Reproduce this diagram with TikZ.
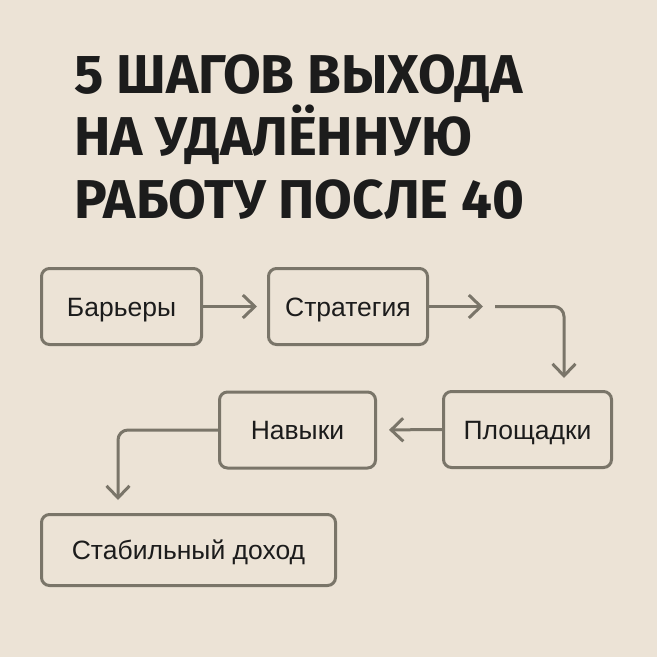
\documentclass[tikz,border=0pt]{standalone}
\usepackage{fontspec}
\setmainfont{Liberation Sans}
\newfontfamily\titlefont{Fira Sans}
\usetikzlibrary{positioning,arrows.meta}

\definecolor{paper}{HTML}{ECE3D6}
\definecolor{frame}{HTML}{7A7569}
\definecolor{ink}{HTML}{1C1C1C}

\begin{document}
\begin{tikzpicture}[
        x=1pt, y=-1pt,
        stepbox/.style={rectangle, draw=frame, line width=3pt, rounded corners=8pt, text=ink,
            font=\fontsize{26.5}{30}\selectfont, minimum height=76pt, inner sep=0pt,
            text height=19pt, text depth=0pt},
        headline/.style={anchor=base west, inner sep=0pt, text=ink,
            font=\titlefont\bfseries\fontsize{54.7}{62.5}\selectfont},
        arrow/.style={draw=frame, line width=3pt, -{Straight Barb[length=12pt,width=23pt,line width=3pt]}}
    ]
        \fill[paper] (0,0) rectangle (657,657);
        \useasboundingbox (0,0) rectangle (657,657);

        % title
        \node[headline] (title1) at (74,93) {5 ШАГОВ ВЫХОДА};
        \node[headline] (title2) at (74,155) {НА УДАЛЁННУЮ};
        \node[headline] (title3) at (74,218) {РАБОТУ ПОСЛЕ 40};

        % steps
        \node[stepbox, minimum width=160pt] (bar) at (121.5,306.5) {Барьеры};
        \node[stepbox, minimum width=159pt] (str) at (348,306.5) {Стратегия};
        \node[stepbox, minimum width=168pt] (plo) at (527.5,429.5) {Площадки};
        \node[stepbox, minimum width=156pt] (nav) at (297.5,430) {Навыки};
        \node[stepbox, minimum width=294pt, minimum height=71pt] (stab) at (188.5,550) {Стабильный доход};

        \coordinate (gap) at (483,306.5);
        \coordinate (turn) at (495,306.5);
        \coordinate (drop) at (564,378);
        \coordinate (down) at (118,500);

        \draw[arrow] (bar) -- (str) [shorten >=10pt];
        \draw[arrow] (str.east) -- (gap);
        \draw[arrow, rounded corners=10pt] (turn) -| (drop);
        \draw[arrow, shorten >=12pt] (plo.west) -- (nav.east);
        \draw[arrow, rounded corners=10pt] (nav.west) -| (down);
    \end{tikzpicture}
\end{document}
